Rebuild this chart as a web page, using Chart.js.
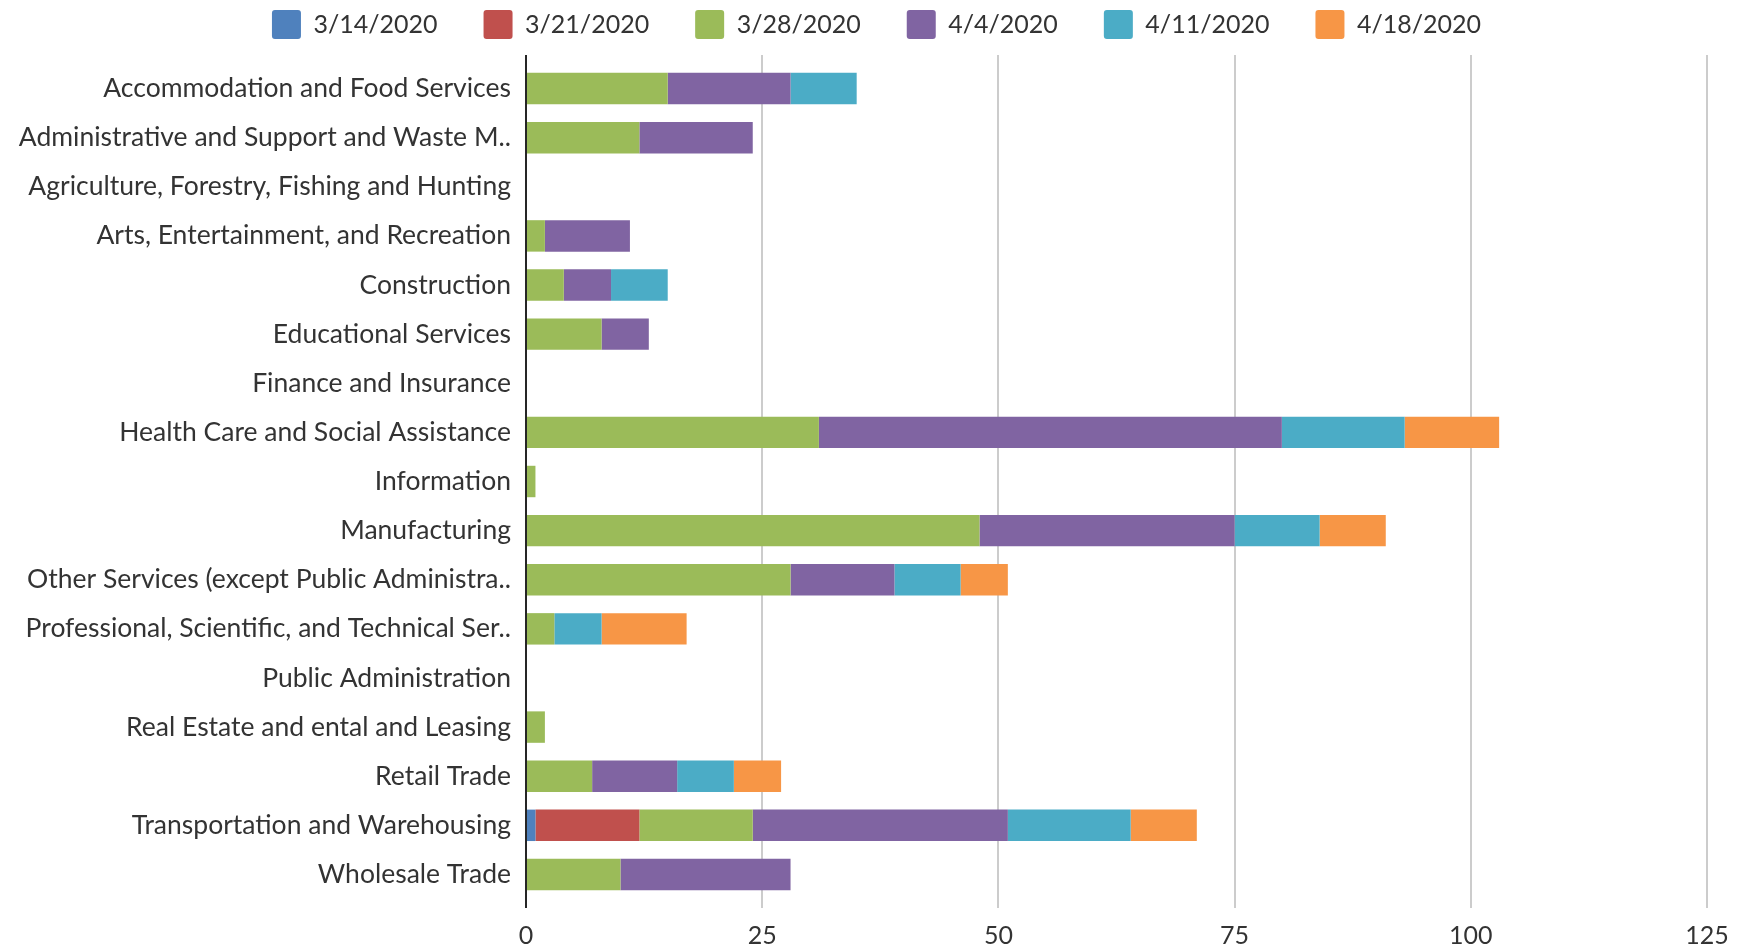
<!DOCTYPE html>
<html>
<head>
<meta charset="utf-8">
<title>Weekly counts by industry</title>
<script src="https://cdn.jsdelivr.net/npm/chart.js@4.4.1/dist/chart.umd.min.js"></script>
<style>
  html, body { margin: 0; padding: 0; background: #fff; }
  #wrap { width: 1737px; height: 948px; position: relative; }
</style>
</head>
<body>
<div id="wrap"><canvas id="industryChart"></canvas></div>
<script>
// Categories (top to bottom)
const industries = [
  "Accommodation and Food Services",
  "Administrative and Support and Waste M..",
  "Agriculture, Forestry, Fishing and Hunting",
  "Arts, Entertainment, and Recreation",
  "Construction",
  "Educational Services",
  "Finance and Insurance",
  "Health Care and Social Assistance",
  "Information",
  "Manufacturing",
  "Other Services (except Public Administra..",
  "Professional, Scientific, and Technical Ser..",
  "Public Administration",
  "Real Estate and ental and Leasing",
  "Retail Trade",
  "Transportation and Warehousing",
  "Wholesale Trade",
];

const weekLabels = ["3/14/2020", "3/21/2020", "3/28/2020", "4/4/2020", "4/11/2020", "4/18/2020"];

// Series values, one per week
const week0314 = [0, 0, 0, 0, 0, 0, 0, 0, 0, 0, 0, 0, 0, 0, 0, 1, 0];
const week0321 = [0, 0, 0, 0, 0, 0, 0, 0, 0, 0, 0, 0, 0, 0, 0, 11, 0];
const week0328 = [15, 12, 0, 2, 4, 8, 0, 31, 1, 48, 28, 3, 0, 2, 7, 12, 10];
const week0404 = [13, 12, 0, 9, 5, 5, 0, 49, 0, 27, 11, 0, 0, 0, 9, 27, 18];
const week0411 = [7, 0, 0, 0, 6, 0, 0, 13, 0, 9, 7, 5, 0, 0, 6, 13, 0];
const week0418 = [0, 0, 0, 0, 0, 0, 0, 10, 0, 7, 5, 9, 0, 0, 5, 7, 0];

const xTicks = [0, 25, 50, 75, 100, 125];

const seriesColors = ["#4F81BD", "#C0504D", "#9BBB59", "#8064A2", "#4BACC6", "#F79646"];
const seriesValues = [week0314, week0321, week0328, week0404, week0411, week0418];

const textColor = "#333333";
const fontFamily = "Lato, 'Open Sans', sans-serif";

// extra room under the legend, and center it without the trailing item padding
const legendGap = {
  id: "legendGap",
  beforeInit(chart) {
    const fit = chart.legend.fit;
    chart.legend.fit = function () {
      fit.bind(chart.legend)();
      this.height += 15;
      const pad = this.options.labels.padding;
      if (this.lineWidths) {
        this.lineWidths = this.lineWidths.map((w) => w - pad);
      }
    };
  },
};

// value gridlines + axis line, running a bit past the category band like Excel
const excelGrid = {
  id: "excelGrid",
  beforeDatasetsDraw(chart) {
    const { ctx, chartArea, scales } = chart;
    const top = chartArea.top - 9;
    const bottom = chartArea.bottom + 9;
    ctx.save();
    ctx.strokeStyle = "#cccccc";
    ctx.lineWidth = 2;
    xTicks.forEach((v) => {
      if (v === 0) return;
      const x = Math.round(scales.x.getPixelForValue(v));
      ctx.beginPath();
      ctx.moveTo(x, top);
      ctx.lineTo(x, bottom);
      ctx.stroke();
    });
    ctx.restore();
  },
  afterDatasetsDraw(chart) {
    const { ctx, chartArea, scales } = chart;
    const x = Math.round(scales.x.getPixelForValue(0));
    ctx.save();
    ctx.strokeStyle = "#262626";
    ctx.lineWidth = 2;
    ctx.beginPath();
    ctx.moveTo(x, chartArea.top - 9);
    ctx.lineTo(x, chartArea.bottom + 9);
    ctx.stroke();
    ctx.restore();
  },
};

const ctx = document.getElementById("industryChart").getContext("2d");
new Chart(ctx, {
  type: "bar",
  data: {
    labels: industries,
    datasets: weekLabels.map((label, i) => ({
      label: label,
      data: seriesValues[i],
      backgroundColor: seriesColors[i],
      borderWidth: 0,
      barPercentage: 0.64,
      categoryPercentage: 1,
    })),
  },
  options: {
    indexAxis: "y",
    responsive: true,
    maintainAspectRatio: false,
    animation: false,
    layout: {
      padding: { top: -36, right: 30, bottom: 0, left: 0 },
    },
    scales: {
      x: {
        stacked: true,
        min: 0,
        max: 125,
        border: { display: false },
        grid: { display: false, drawTicks: false },
        afterBuildTicks(scale) {
          scale.ticks = xTicks.map((v) => ({ value: v }));
        },
        afterFit(scale) {
          scale.height = 49;
          scale.paddingLeft = 0;
          scale.paddingRight = 0;
        },
        ticks: {
          padding: 22,
          color: textColor,
          font: { family: fontFamily, size: 25 },
        },
      },
      y: {
        stacked: true,
        border: { display: false },
        grid: { display: false, drawTicks: false },
        afterFit(scale) {
          scale.width = 526;
        },
        ticks: {
          padding: 15,
          color: textColor,
          autoSkip: false,
          font: { family: fontFamily, size: 26.5 },
        },
      },
    },
    plugins: {
      legend: {
        position: "top",
        labels: {
          boxWidth: 29,
          boxHeight: 29,
          useBorderRadius: true,
          borderRadius: 3,
          padding: 46,
          color: textColor,
          font: { family: fontFamily, size: 25 },
        },
      },
      tooltip: { enabled: false },
    },
  },
  plugins: [legendGap, excelGrid],
});
</script>
</body>
</html>
